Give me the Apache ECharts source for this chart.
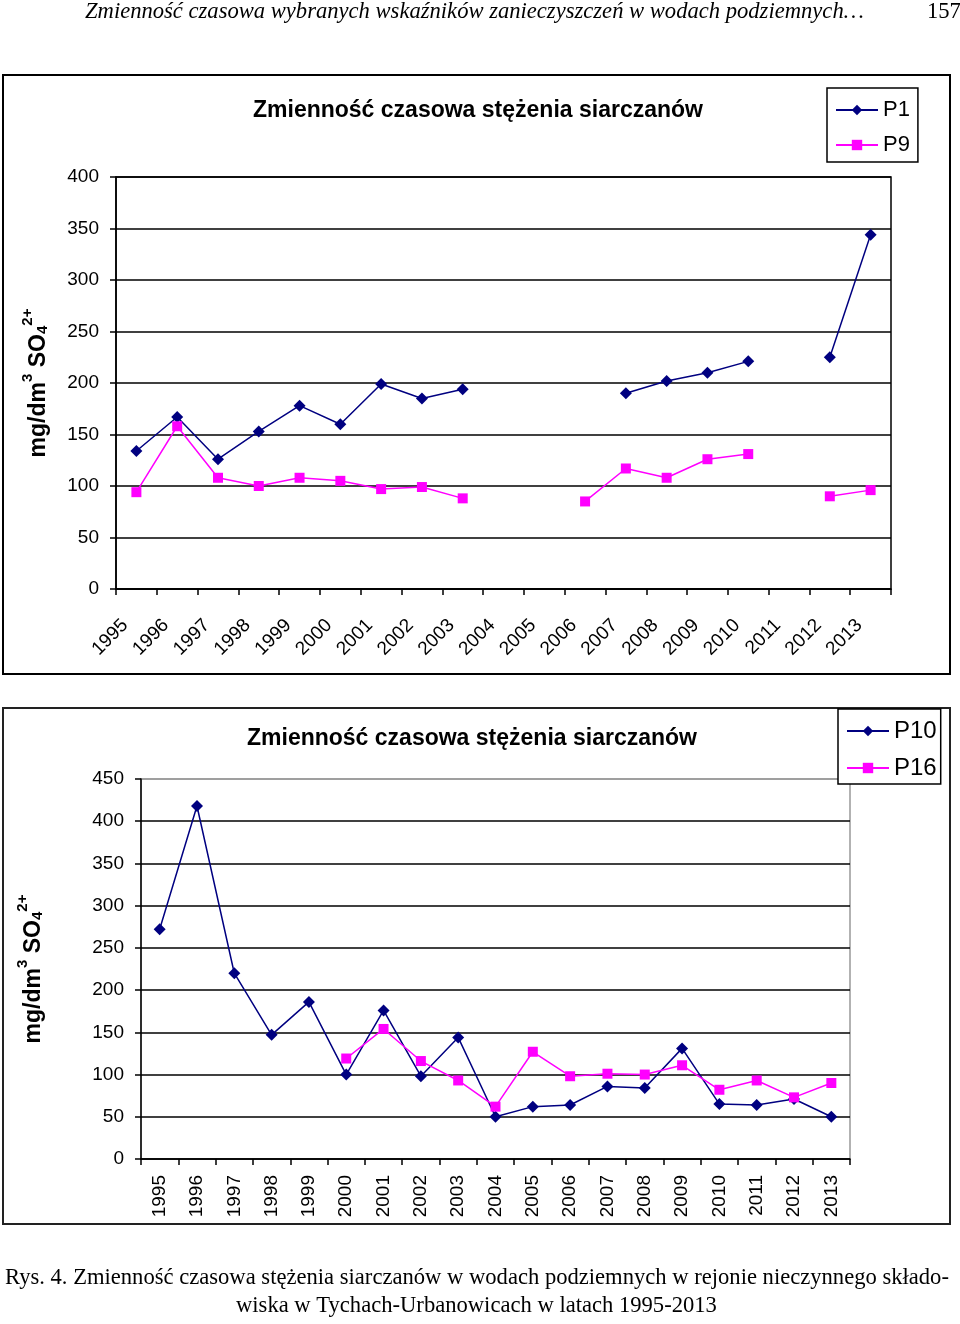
<!DOCTYPE html>
<html><head><meta charset="utf-8">
<script src="https://cdn.jsdelivr.net/npm/echarts@6/dist/echarts.min.js"></script>
<style>html,body{margin:0;padding:0;background:#fff}#c{width:960px;height:1324px}</style>
</head><body><div id="c"></div>
<script>
const years = ['1995','1996','1997','1998','1999','2000','2001','2002','2003','2004','2005','2006','2007','2008','2009','2010','2011','2012','2013'];
const p1  = [134,167,126,153,178,160,199,185,194,null,null,null,190,202,210,221,null,225,344];
const p9  = [94,158,108,100,108,105,97,99,88,null,null,85,117,108,126,131,null,90,96];
const p10 = [272,418,220,147,186,100,176,98,144,50,62,64,86,84,131,65,64,71,50];
const p16 = [null,null,null,null,null,119,154,116,93,62,127,98,101,100,111,82,93,73,90];
const chartTitle = 'Zmienność czasowa stężenia siarczanów';
const pageHeader = 'Zmienność czasowa wybranych wskaźników zanieczyszczeń w wodach podziemnych…';
const pageNumber = '157';
const caption1 = 'Rys. 4. Zmienność czasowa stężenia siarczanów w wodach podziemnych w rejonie nieczynnego składo-';
const caption2 = 'wiska w Tychach-Urbanowicach w latach 1995-2013';

const SANS = "'Liberation Sans', Arial, sans-serif";
const SERIF = "'Liberation Serif', 'Times New Roman', serif";
const NAVY = '#000080', MAG = '#ff00ff';

const yName = '{a|mg/dm}{sup|3}{a| SO}{sub|4}{sup|2+}';
const yNameRich = {
  a: {fontSize: 23, fontWeight: 'bold', fontFamily: SANS, color: '#000', lineHeight: 30, verticalAlign: 'bottom'},
  sup: {fontSize: 15, fontWeight: 'bold', fontFamily: SANS, color: '#000', lineHeight: 30, verticalAlign: 'top'},
  sub: {fontSize: 15, fontWeight: 'bold', fontFamily: SANS, color: '#000', lineHeight: 30, verticalAlign: 'bottom'}
};

function xAxis(gi, rotate, margin, pad) {
  return {
    type: 'category', gridIndex: gi, data: years, boundaryGap: true,
    axisLine: {show: true, lineStyle: {color: '#000', width: 1.5}},
    axisTick: {show: true, length: 6, inside: false, alignWithLabel: false, lineStyle: {color: '#000', width: 1.5}},
    axisLabel: {rotate: rotate, margin: margin, fontSize: 19, fontFamily: SANS, color: '#000', interval: 0, padding: pad},
    splitLine: {show: false}
  };
}
function yAxis(gi, max, gap, splitColors) {
  return {
    type: 'value', gridIndex: gi, min: 0, max: max, interval: 50,
    name: yName, nameLocation: 'middle', nameRotate: 90, nameGap: gap,
    nameTextStyle: {rich: yNameRich},
    axisLine: {show: true, lineStyle: {color: '#000', width: 1.5}},
    axisTick: {show: true, length: 6, lineStyle: {color: '#000', width: 1.5}},
    axisLabel: {fontSize: 19, fontFamily: SANS, color: '#000', margin: 17},
    splitLine: {show: true, lineStyle: {color: splitColors, width: 1.5}}
  };
}
function lineSeries(name, data, xi, color, symbol, size) {
  return {
    type: 'line', name: name, data: data, xAxisIndex: xi, yAxisIndex: xi,
    connectNulls: false, symbol: symbol, symbolSize: size, showSymbol: true,
    lineStyle: {color: color, width: 1.5}, itemStyle: {color: color}, animation: false
  };
}

const chart = echarts.init(document.getElementById('c'), null, {renderer: 'canvas'});
const split2 = ['#000','#000','#000','#000','#000','#000','#000','#000','#000','#999'];
chart.setOption({
  backgroundColor: '#fff',
  animation: false,
  textStyle: {fontFamily: SANS},
  grid: [
    {left: 116, top: 177, width: 775, height: 412, show: true, borderColor: '#000', borderWidth: 1.5, backgroundColor: 'transparent'},
    {left: 141, top: 779, width: 709, height: 380, show: true, borderColor: '#999', borderWidth: 1.5, backgroundColor: 'transparent'}
  ],
  xAxis: [xAxis(0, 45, 22, [0, 16, 0, 0]), xAxis(1, 90, 16, 0)],
  yAxis: [yAxis(0, 400, 66, '#000'), yAxis(1, 450, 96, split2)],
  legend: [
    {data: ['P1', 'P9'], orient: 'vertical', left: 827, top: 88, itemWidth: 42, itemHeight: 13, itemGap: 13,
     padding: [11, 8, 6, 8], borderColor: '#000', borderWidth: 1.5, backgroundColor: '#fff',
     textStyle: {fontSize: 22, fontFamily: SANS, color: '#000'}},
    {data: ['P10', 'P16'], orient: 'vertical', left: 838, top: 709, itemWidth: 42, itemHeight: 13, itemGap: 13,
     padding: [10, 4, 4, 8], borderColor: '#000', borderWidth: 1.5, backgroundColor: '#fff',
     textStyle: {fontSize: 24, fontFamily: SANS, color: '#000'}}
  ],
  series: [
    lineSeries('P1', p1, 0, NAVY, 'diamond', 12),
    lineSeries('P9', p9, 0, MAG, 'rect', 10),
    lineSeries('P10', p10, 1, NAVY, 'diamond', 12),
    lineSeries('P16', p16, 1, MAG, 'rect', 10)
  ],
  graphic: [
    {type: 'rect', z: -1, shape: {x: 3, y: 75, width: 947, height: 599}, style: {fill: null, stroke: '#000', lineWidth: 2}},
    {type: 'rect', z: -1, shape: {x: 3, y: 708, width: 947, height: 516}, style: {fill: null, stroke: '#222', lineWidth: 2}},
    {type: 'text', top: 99, left: 253, style: {text: chartTitle, font: "bold 23px " + SANS, fill: '#000'}},
    {type: 'text', top: 727, left: 247, style: {text: chartTitle, font: "bold 23px " + SANS, fill: '#000'}},
    {type: 'text', left: 85, top: 1, style: {text: pageHeader, font: "italic 22.6px " + SERIF, fill: '#000'}},
    {type: 'text', left: 927, top: 1, style: {text: pageNumber, font: "22.6px " + SERIF, fill: '#000'}},
    {type: 'text', left: 5, top: 1267, style: {text: caption1, font: "22.6px " + SERIF, fill: '#000'}},
    {type: 'text', left: 236, top: 1295, style: {text: caption2, font: "22.6px " + SERIF, fill: '#000'}}
  ]
});
</script></body></html>
